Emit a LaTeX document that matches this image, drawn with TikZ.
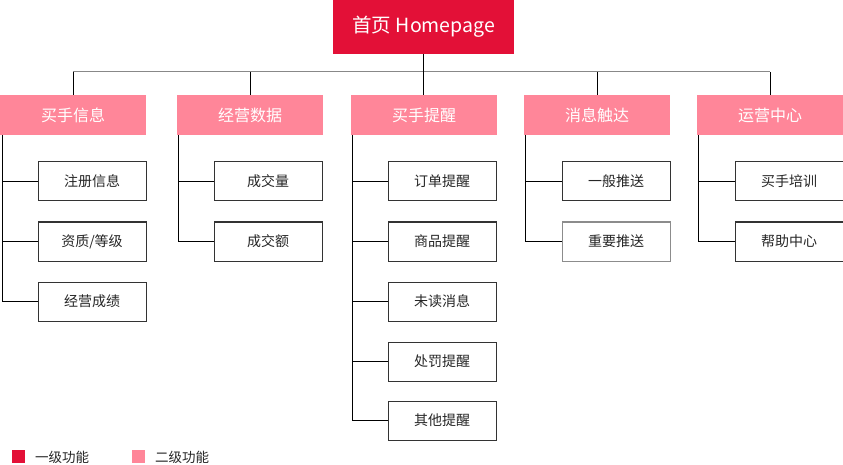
\documentclass[tikz,border=0pt]{standalone}
\usepackage{fontspec}
\setmainfont{Noto Sans CJK SC}
\definecolor{lvone}{HTML}{E31037}
\definecolor{lvtwo}{HTML}{FF8699}
\definecolor{boxline}{HTML}{333333}
\definecolor{hline}{HTML}{888888}
\tikzset{
  topbox/.style={rectangle, fill=lvone, text=white, anchor=north west, inner sep=0pt,
    minimum width=181pt, minimum height=54pt, font=\fontsize{19.5}{21}\selectfont},
  secbox/.style={rectangle, fill=lvtwo, text=white, anchor=north west, inner sep=0pt,
    minimum width=146pt, minimum height=40pt, font=\fontsize{16}{18}\selectfont},
  leafbox/.style={rectangle, draw=boxline, line width=1pt, fill=white, text=black!85, anchor=north west, inner sep=0pt,
    minimum width=108pt, minimum height=39pt, font=\fontsize{14}{16}\selectfont},
  conn/.style={draw=black, line width=1pt},
  legsq/.style={rectangle, anchor=north west, minimum size=13pt, inner sep=0pt},
  legtxt/.style={anchor=west, inner sep=0pt, text=black!85, font=\fontsize{13.5}{15}\selectfont}
}
\begin{document}
\begin{tikzpicture}[x=1pt,y=-1pt]
\useasboundingbox (0,0) rectangle (843,465);
\fill[white] (0,0) rectangle (843,465);

\node[topbox] (top) at (333,0) {首页 Homepage};

\node[secbox] (b1) at (0,95) {买手信息};
\node[secbox] (b2) at (177,95) {经营数据};
\node[secbox] (b3) at (351,95) {买手提醒};
\node[secbox] (b4) at (524,95) {消息触达};
\node[secbox] (b5) at (697,95) {运营中心};

\coordinate (h) at (0,72);
\draw[draw=hline, line width=1pt] (b1.north |- h) -- (b5.north |- h);
\draw[conn] (top.south) -- (top.south |- b3.north);
\foreach \b in {b1,b2,b4,b5}{
  \draw[conn] (\b.north |- h) -- (\b.north);
}

% column 1
\node[leafbox] (c11) at (37.5,161.5) {注册信息};
\node[leafbox] (c12) at (37.5,221.5) {资质/等级};
\node[leafbox] (c13) at (37.5,281.5) {经营成绩};
% column 2
\node[leafbox] (c21) at (213.5,161.5) {成交量};
\node[leafbox] (c22) at (213.5,221.5) {成交额};
% column 3
\node[leafbox] (c31) at (387.5,161.5) {订单提醒};
\node[leafbox] (c32) at (387.5,221.5) {商品提醒};
\node[leafbox] (c33) at (387.5,281.5) {未读消息};
\node[leafbox] (c34) at (387.5,341.5) {处罚提醒};
\node[leafbox] (c35) at (387.5,400.5) {其他提醒};
% column 4
\node[leafbox] (c41) at (561.5,161.5) {一般推送};
\node[leafbox, draw=black!45] (c42) at (561.5,221.5) {重要推送};
% column 5
\node[leafbox] (c51) at (734.5,161.5) {买手培训};
\node[leafbox] (c52) at (734.5,221.5) {帮助中心};

% trunks
\coordinate (t1) at (2.5,135);
\coordinate (t2) at (178.5,135);
\coordinate (t3) at (352.5,135);
\coordinate (t4) at (525.5,135);
\coordinate (t5) at (698.5,135);

\draw[conn] (t1) |- (c13.west);
\foreach \c in {c11,c12}{ \draw[conn] (\c.west) -- (\c.west -| t1); }
\draw[conn] (t2) |- (c22.west);
\draw[conn] (c21.west) -- (c21.west -| t2);
\draw[conn] (t3) |- (c35.west);
\foreach \c in {c31,c32,c33,c34}{ \draw[conn] (\c.west) -- (\c.west -| t3); }
\draw[conn] (t4) |- (c42.west);
\draw[conn] (c41.west) -- (c41.west -| t4);
\draw[conn] (t5) |- (c52.west);
\draw[conn] (c51.west) -- (c51.west -| t5);

% legend
\node[legsq, fill=lvone] (l1) at (12,450) {};
\node[legtxt] (lt1) at (35,457.5) {一级功能};
\node[legsq, fill=lvtwo] (l2) at (132,450) {};
\node[legtxt] (lt2) at (155,457.5) {二级功能};
\end{tikzpicture}
\end{document}
